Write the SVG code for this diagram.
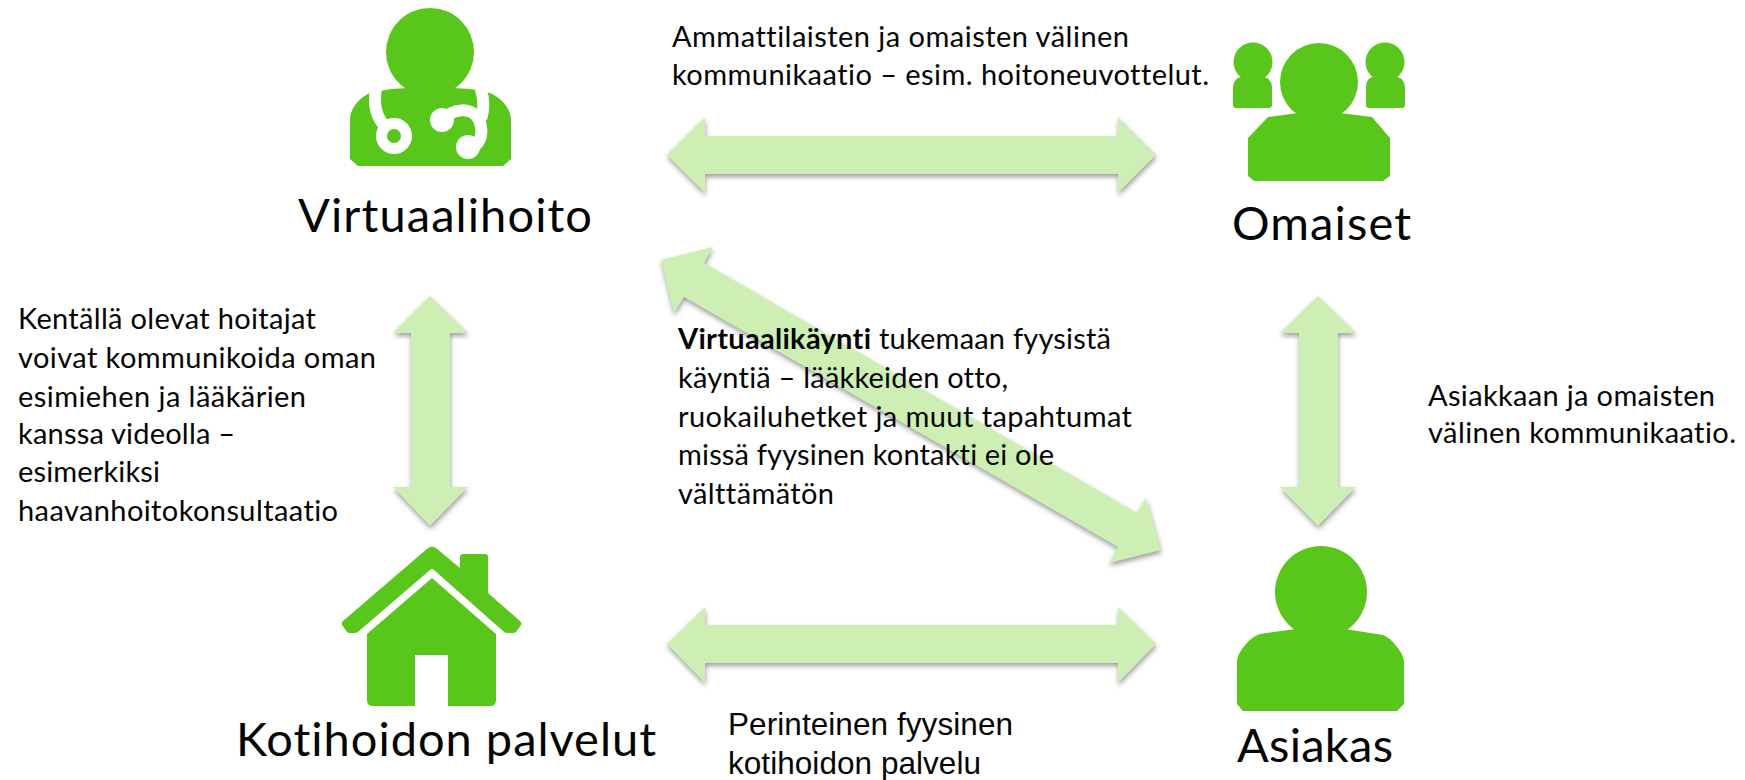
<svg xmlns="http://www.w3.org/2000/svg" width="1745" height="780" viewBox="0 0 1745 780">
<style>
.ic{fill:#58c61a}
.ar{fill:#cdefb3;filter:url(#sh)}
text{font-variant-ligatures:none}
.t{font-family:"Lato","Liberation Sans",sans-serif;font-size:29px;fill:#050505}
.big{font-family:"Lato","Liberation Sans",sans-serif;font-size:47px;fill:#050505}
.ar2{font-family:"Liberation Sans",Arial,sans-serif;font-size:31.5px;fill:#050505}
.b{font-weight:700}
.st{fill:none;stroke:#fff;stroke-width:12;stroke-linecap:round}
</style>
<defs>
<filter id="sh" x="-10%" y="-10%" width="120%" height="120%" color-interpolation-filters="sRGB">
<feDropShadow dx="0.5" dy="3" stdDeviation="2.5" flood-color="#000" flood-opacity="0.38"/>
</filter>
</defs>
<rect width="1745" height="780" fill="#fff"/>
<g id="connectors">
<polygon id="arrow-virtuaali-omaiset" class="ar" points="667,155 705,117 705,136 1118,136 1118,117 1156,155 1118,193 1118,174 705,174 705,193"/>
<polygon id="arrow-koti-asiakas" class="ar" points="667,644 705,607 705,625 1118,625 1118,607 1156,644 1118,683 1118,663 705,663 705,683"/>
<polygon id="arrow-virtuaali-koti" class="ar" points="430,296 468,333 450,333 450,487 468,487 430,526 393,487 411,487 411,333 393,333"/>
<polygon id="arrow-omaiset-asiakas" class="ar" points="1318,296 1356,333 1338,333 1338,487 1356,487 1318,526 1280,487 1299,487 1299,333 1280,333"/>
<polygon id="arrow-diagonal" class="ar" points="661,260 713,247 704,263 1137,513 1146,498 1161,550 1109,563 1118,547 684,297 674,313"/>
</g>
<g id="node-virtuaalihoito">
<circle class="ic" cx="430" cy="52" r="44"/>
<path class="ic" d="M373,92 C360,96 350,108 350,120 L350,159 L358,166 L503,166 L511,159 L511,120 C511,108 500,96 487,92 L470,89 L454,88 L407,88 L392,89 Z"/>
<path class="st" d="M376,88 C374,100 374,116 386,127"/>
<circle cx="394" cy="136" r="12.5" fill="#58c61a" stroke="#fff" stroke-width="11"/>
<path class="st" d="M481,90 C484,100 484,108 482,116"/>
<path class="st" d="M442,121 C452,108 472,106 479,120 C484,132 481,143 472,148"/>
<circle cx="442" cy="120" r="12" fill="#fff"/>
<circle cx="468" cy="147" r="12" fill="#fff"/>
<text class="big" x="298" y="232" textLength="294">Virtuaalihoito</text>
</g>
<g id="node-omaiset">
<circle class="ic" cx="1319" cy="82" r="39"/>
<path class="ic" d="M1298,113 L1268,117 L1248,138 L1248,176 L1254,181 L1383,181 L1390,176 L1390,138 L1372,117 L1340,113 Z"/>
<circle class="ic" cx="1253" cy="62" r="19.5"/>
<path class="ic" d="M1241,77 C1236,78 1233,82 1233,88 L1233,106 L1235,108 L1270,108 L1272,106 L1272,88 C1272,82 1269,78 1264,77 Z"/>
<circle class="ic" cx="1385" cy="62" r="19.5"/>
<path class="ic" d="M1373,77 C1368,78 1366,82 1366,88 L1366,106 L1368,108 L1403,108 L1405,106 L1405,88 C1405,82 1402,78 1397,77 Z"/>
<text class="big" x="1232" y="240" textLength="179">Omaiset</text>
</g>
<g id="node-kotihoidon-palvelut">
<path class="ic" d="M428,548 Q432,545 436,548 L460,568 L460,557 Q460,554 463,554 L485,554 Q488,554 488,557 L488,593 L520,621 Q522,623 521,625 L516,632 Q515,633 512,633 L507,633 Q505,633 503,631 L434,570 Q432,568 430,570 L359,631 Q357,633 355,633 L350,633 Q348,633 347,632 L342,625 Q341,623 343,621 Z"/>
<path class="ic" d="M432,578 L496,634 L496,700 Q496,706 490,706 L448,706 L448,655 L415,655 L415,706 L373,706 Q367,706 367,700 L367,634 Z"/>
<text class="big" x="236" y="756" textLength="420">Kotihoidon palvelut</text>
</g>
<g id="node-asiakas">
<circle class="ic" cx="1321" cy="592" r="46"/>
<path class="ic" d="M1296,629 L1260,634 C1250,637 1237,652 1237,662 L1237,704 L1243,711 L1397,711 L1404,704 L1404,662 C1404,654 1392,638 1383,635 L1345,629 Z"/>
<text class="big" x="1237" y="762" textLength="156">Asiakas</text>
</g>
<g id="label-ammattilaisten">
<text class="t" x="672" y="47" textLength="457">Ammattilaisten ja omaisten välinen</text>
<text class="t" x="672" y="85" textLength="537">kommunikaatio – esim. hoitoneuvottelut.</text>
</g>
<g id="label-kentalla">
<text class="t" x="18" y="329" textLength="298">Kentällä olevat hoitajat</text>
<text class="t" x="18" y="368" textLength="358">voivat kommunikoida oman</text>
<text class="t" x="18" y="407" textLength="288">esimiehen ja lääkärien</text>
<text class="t" x="18" y="444" textLength="217">kanssa videolla –</text>
<text class="t" x="18" y="482" textLength="142">esimerkiksi</text>
<text class="t" x="18" y="521" textLength="320">haavanhoitokonsultaatio</text>
</g>
<g id="label-asiakkaan">
<text class="t" x="1428" y="406" textLength="287">Asiakkaan ja omaisten</text>
<text class="t" x="1428" y="443" textLength="308">välinen kommunikaatio.</text>
</g>
<g id="label-virtuaalikaynti">
<text class="t" x="678" y="349"><tspan class="b" textLength="193">Virtuaalikäynti</tspan> <tspan x="879" textLength="232">tukemaan fyysistä</tspan></text>
<text class="t" x="678" y="388" textLength="330">käyntiä – lääkkeiden otto,</text>
<text class="t" x="678" y="427" textLength="454">ruokailuhetket ja muut tapahtumat</text>
<text class="t" x="678" y="465" textLength="376">missä fyysinen kontakti ei ole</text>
<text class="t" x="678" y="504" textLength="156">välttämätön</text>
</g>
<g id="label-perinteinen">
<text class="ar2" x="728" y="735" textLength="285">Perinteinen fyysinen</text>
<text class="ar2" x="728" y="774" textLength="253">kotihoidon palvelu</text>
</g>
</svg>
